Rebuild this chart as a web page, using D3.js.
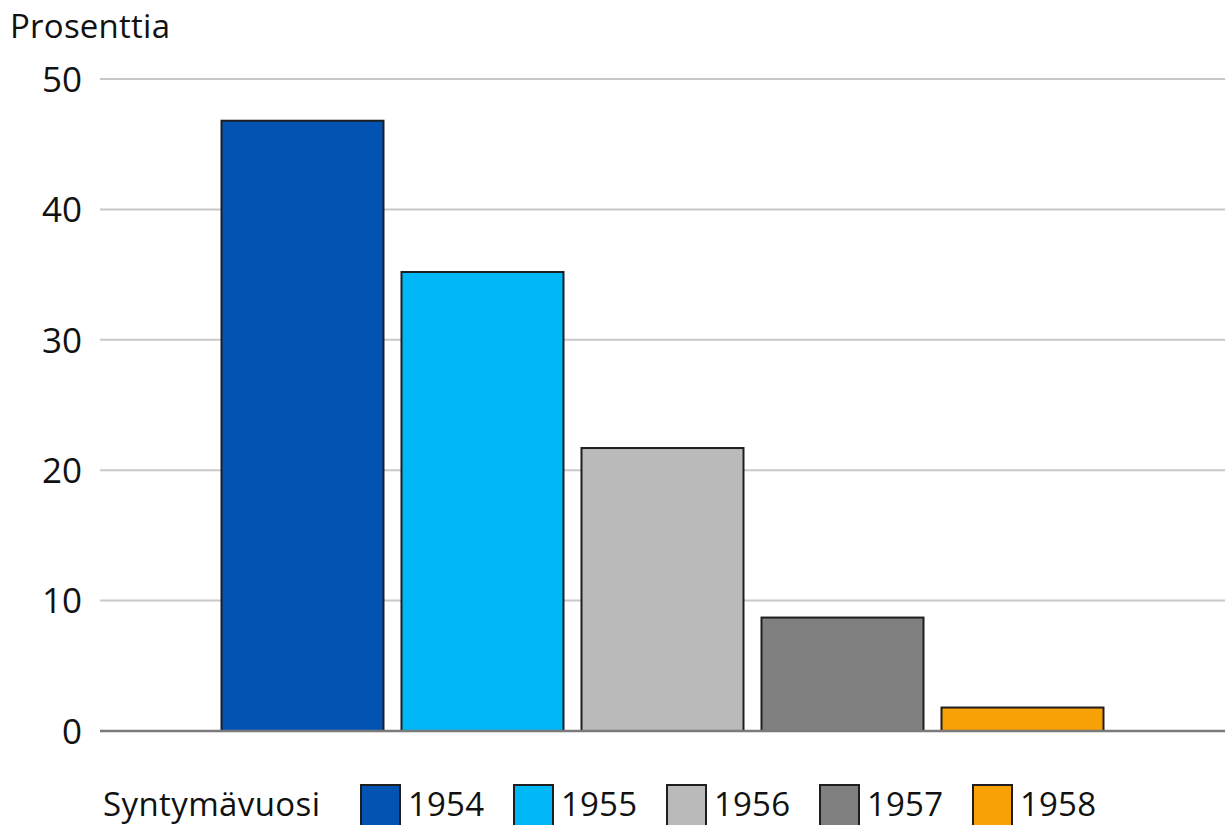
<!DOCTYPE html>
<html>
<head>
<meta charset="utf-8">
<script src="https://cdn.jsdelivr.net/npm/d3@7"></script>
<style>
  html, body { margin: 0; padding: 0; background: #fff; }
  svg { display: block; font-family: "Open Sans", sans-serif; }
</style>
</head>
<body>
<svg id="chart" width="1225" height="825"></svg>
<script>
const categories = [""];
const years = ["1954", "1955", "1956", "1957", "1958"];
const values = [46.8, 35.2, 21.7, 8.7, 1.8];
const colors = ["#0353b3", "#00b8f7", "#bababa", "#808080", "#f8a106"];
const yTicks = [0, 10, 20, 30, 40, 50];
const yTitle = "Prosenttia";
const legendTitle = "Syntymävuosi";

const svg = d3.select("#chart");
const mLeft = 100, mRight = 1225, mTop = 79, mBottom = 731;

const y = d3.scaleLinear().domain([0, 50]).range([mBottom, mTop]);
const x0 = d3.scaleBand().domain(categories).range([mLeft, mRight]).paddingInner(0).paddingOuter(0.125);
const x1 = d3.scaleBand().domain(years).range([0, x0.bandwidth()]).paddingInner(0.1).paddingOuter(0.05);

// axis labels
const yAxis = d3.axisLeft(y).tickValues(yTicks).tickSize(0).tickPadding(18);
const gAxis = svg.append("g").attr("transform", `translate(${mLeft},0)`).call(yAxis);
gAxis.select(".domain").remove();
gAxis.selectAll("text").attr("font-size", 35).attr("fill", "#111").attr("font-family", "'Open Sans', sans-serif").attr("dy", "0.35em");

// gridlines
svg.append("g").selectAll("line").data(yTicks.filter(d => d !== 0)).join("line")
  .attr("x1", mLeft).attr("x2", mRight)
  .attr("y1", d => y(d)).attr("y2", d => y(d))
  .attr("stroke", "#c8c8c8").attr("stroke-width", 2);

// bars
const data = years.map((yr, i) => ({ year: yr, value: values[i], color: colors[i] }));
svg.append("g").attr("transform", `translate(${x0("")},0)`)
  .selectAll("rect").data(data).join("rect")
  .attr("x", d => x1(d.year))
  .attr("y", d => y(d.value))
  .attr("width", x1.bandwidth())
  .attr("height", d => y(0) - y(d.value))
  .attr("fill", d => d.color)
  .attr("stroke", "#1e1e1e").attr("stroke-width", 2);

// baseline
svg.append("line")
  .attr("x1", mLeft).attr("x2", mRight)
  .attr("y1", y(0)).attr("y2", y(0))
  .attr("stroke", "#7a7a7a").attr("stroke-width", 2.5);

// y title
svg.append("text").attr("x", 10).attr("y", 38)
  .attr("font-size", 33).attr("fill", "#111").attr("textLength", 160).text(yTitle);

// legend
const legY = 785;
svg.append("text").attr("x", 103).attr("y", 816)
  .attr("font-size", 33).attr("fill", "#111").attr("textLength", 217).text(legendTitle);
const leg = svg.append("g").selectAll("g").data(data).join("g")
  .attr("transform", (d, i) => `translate(${361 + i * 153},${legY})`);
leg.append("rect").attr("x", 0).attr("y", 0).attr("width", 39).attr("height", 42)
  .attr("fill", d => d.color).attr("stroke", "#1e1e1e").attr("stroke-width", 2);
leg.append("text").attr("x", 47).attr("y", 31)
  .attr("font-size", 33).attr("fill", "#111").attr("textLength", 76).text(d => d.year);
</script>
</body>
</html>
